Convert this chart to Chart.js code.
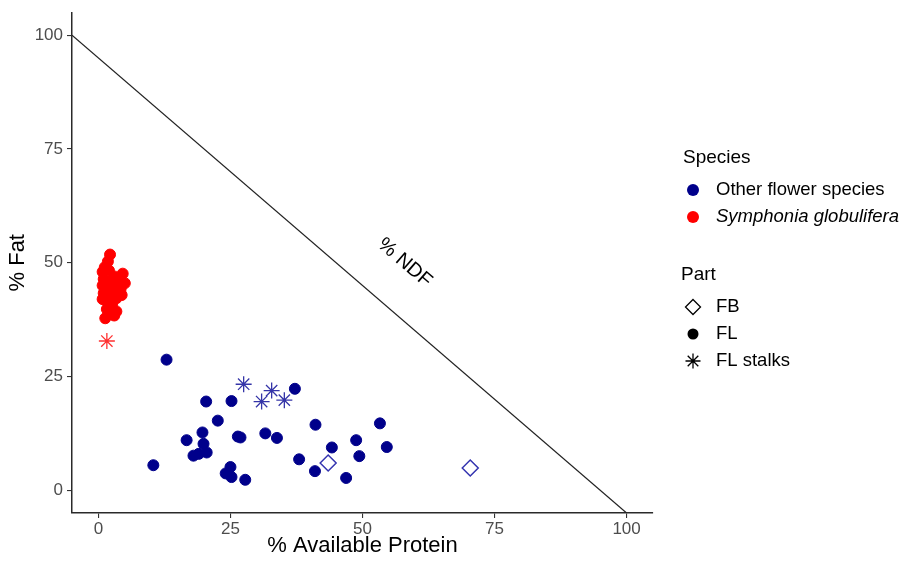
<!DOCTYPE html>
<html><head><meta charset="utf-8">
<script src="https://cdn.jsdelivr.net/npm/chart.js@4.4.0/dist/chart.umd.min.js"></script>
<style>html,body{margin:0;padding:0;background:#fff;}#wrap{width:913px;height:562px;position:relative;}</style>
</head><body><div id="wrap"><canvas id="c" width="913" height="562"></canvas></div>
<script>
// ---- data ----
const xTicks = [0, 25, 50, 75, 100];
const yTicks = [0, 25, 50, 75, 100];
const xTitle = '% Available Protein';
const yTitle = '% Fat';
const ndfLine = [[-5, 100], [100, -5]];
const ndfLabel = { text: '% NDF', x: 58, y: 50 };

// Other flower species
const otherFL = [
  [12.9, 28.7], [10.4, 5.5], [20.4, 19.5], [25.2, 19.6], [22.6, 15.3],
  [19.7, 12.7], [16.7, 11.0], [19.9, 10.2], [18.0, 7.6], [19.0, 8.0],
  [20.5, 8.3], [26.4, 11.8], [26.9, 11.6], [31.6, 12.5], [33.8, 11.5],
  [25.0, 5.1], [24.1, 3.7], [25.2, 2.9], [27.8, 2.3], [37.2, 22.3],
  [41.1, 14.4], [44.2, 9.4], [48.8, 11.0], [53.3, 14.7], [54.6, 9.5],
  [38.0, 6.8], [49.4, 7.5], [41.0, 4.2], [46.9, 2.7]
];
const otherStalks = [[27.5, 23.3], [30.9, 19.5], [32.8, 21.9], [35.2, 19.8]];
const otherFB = [[43.5, 6.0], [70.4, 4.9]];

// Symphonia globulifera
const symphFL = [
  [2.2, 51.8], [1.8, 50.3], [1.2, 49.0], [0.8, 48.0], [2.0, 48.3], [3.0, 47.0],
  [4.6, 47.6], [1.0, 46.4], [2.2, 46.0], [3.6, 45.8], [5.0, 45.5], [0.8, 45.0],
  [1.6, 44.6], [2.8, 44.0], [4.2, 44.2], [1.0, 43.3], [2.2, 42.8], [4.4, 42.9],
  [3.4, 42.2], [0.8, 42.0], [1.8, 41.2], [2.6, 40.6], [3.4, 39.3], [1.6, 39.8],
  [2.2, 38.8], [1.3, 37.8], [3.0, 38.4]
];
const symphStalks = [[1.6, 32.8]];

const speciesNames = ['Other flower species', 'Symphonia globulifera'];
const speciesColors = ['#00008B', '#FF0000'];
const partNames = ['FB', 'FL', 'FL stalks'];

const toXY = a => a.map(p => ({ x: p[0], y: p[1] }));
const FONT = '"Liberation Sans", Arial, sans-serif';

function drawStar(ctx, x, y, r) {
  const d = r * Math.SQRT1_2;
  ctx.beginPath();
  ctx.moveTo(x - r, y); ctx.lineTo(x + r, y);
  ctx.moveTo(x, y - r); ctx.lineTo(x, y + r);
  ctx.moveTo(x - d, y - d); ctx.lineTo(x + d, y + d);
  ctx.moveTo(x - d, y + d); ctx.lineTo(x + d, y - d);
  ctx.stroke();
}
function drawDiamond(ctx, x, y, r) {
  ctx.beginPath();
  ctx.moveTo(x, y - r); ctx.lineTo(x + r, y); ctx.lineTo(x, y + r); ctx.lineTo(x - r, y);
  ctx.closePath(); ctx.stroke();
}
function drawDot(ctx, x, y, r) {
  ctx.beginPath(); ctx.arc(x, y, r, 0, Math.PI * 2); ctx.fill();
}

const overlay = {
  id: 'overlay',
  afterDatasetsDraw(chart) {
    const ctx = chart.ctx, xs = chart.scales.x, ys = chart.scales.y;
    // NDF label rotated along the line
    const x0 = xs.getPixelForValue(ndfLine[0][0]), y0 = ys.getPixelForValue(ndfLine[0][1]);
    const x1 = xs.getPixelForValue(ndfLine[1][0]), y1 = ys.getPixelForValue(ndfLine[1][1]);
    const ang = Math.atan2(y1 - y0, x1 - x0);
    ctx.save();
    ctx.translate(xs.getPixelForValue(ndfLabel.x), ys.getPixelForValue(ndfLabel.y));
    ctx.rotate(ang);
    ctx.font = '20px ' + FONT; ctx.fillStyle = '#000';
    ctx.textAlign = 'center'; ctx.textBaseline = 'middle';
    ctx.fillText(ndfLabel.text, 0, 0);
    ctx.restore();

    // legend
    ctx.save();
    ctx.textAlign = 'left'; ctx.textBaseline = 'middle'; ctx.fillStyle = '#000';
    const kx = 693, tx = 716;
    ctx.font = '19px ' + FONT;
    ctx.fillText('Species', 683, 158);
    const sy = [190, 217];
    speciesNames.forEach((n, i) => {
      ctx.fillStyle = speciesColors[i];
      drawDot(ctx, kx, sy[i], 6);
      ctx.fillStyle = '#000';
      ctx.font = (i === 1 ? 'italic ' : '') + '18.5px ' + FONT;
      ctx.fillText(n, tx, sy[i]);
    });
    ctx.font = '19px ' + FONT;
    ctx.fillText('Part', 681, 275);
    const py = [307, 334, 361];
    ctx.strokeStyle = '#000'; ctx.lineWidth = 1.3; ctx.fillStyle = '#000';
    drawDiamond(ctx, kx, py[0], 7.5);
    drawDot(ctx, kx, py[1], 5.5);
    drawStar(ctx, kx, py[2], 7.5);
    ctx.font = '18.5px ' + FONT;
    partNames.forEach((n, i) => ctx.fillText(n, tx, py[i]));
    ctx.restore();
  }
};

const axisCommon = {
  type: 'linear', min: -5, max: 105,
  grid: { display: true, drawOnChartArea: false, drawTicks: true, tickLength: 5, color: '#333', lineWidth: 1.1 },
  border: { display: true, color: '#2a2a2a', width: 1.5 },
};

new Chart(document.getElementById('c'), {
  type: 'scatter',
  data: {
    datasets: [
      { type: 'line', label: 'NDF', data: toXY(ndfLine), borderColor: '#222', borderWidth: 1.2, pointRadius: 0, fill: false, order: 10 },
      { label: 'Other FL', data: toXY(otherFL), pointStyle: 'circle', pointRadius: 5.5, backgroundColor: speciesColors[0], borderColor: speciesColors[0], borderWidth: 1 },
      { label: 'Other FL stalks', data: toXY(otherStalks), pointStyle: 'star', pointRadius: 8, backgroundColor: 'transparent', borderColor: '#3535a8', borderWidth: 1.3 },
      { label: 'Other FB', data: toXY(otherFB), pointStyle: 'rectRot', pointRadius: 8, backgroundColor: 'transparent', borderColor: '#3535b0', borderWidth: 1.5 },
      { label: 'Symphonia FL', data: toXY(symphFL), pointStyle: 'circle', pointRadius: 5.5, backgroundColor: speciesColors[1], borderColor: speciesColors[1], borderWidth: 1 },
      { label: 'Symphonia FL stalks', data: toXY(symphStalks), pointStyle: 'star', pointRadius: 8, backgroundColor: 'transparent', borderColor: '#ff3030', borderWidth: 1.3 }
    ]
  },
  options: {
    responsive: false, devicePixelRatio: 1, animation: false,
    layout: { padding: { top: 9, right: 260, left: 0, bottom: 0 } },
    plugins: { legend: { display: false }, tooltip: { enabled: false } },
    scales: {
      x: Object.assign({}, axisCommon, {
        position: 'bottom',
        afterBuildTicks: s => { s.ticks = xTicks.map(v => ({ value: v })); },
        afterFit: s => { s.height = 49; },
        ticks: { color: '#4d4d4d', font: { family: FONT, size: 17, lineHeight: 1 }, padding: 3, maxRotation: 0, autoSkip: false },
        title: { display: true, text: xTitle, color: '#000', font: { family: FONT, size: 22, lineHeight: 1.2 }, padding: { top: 0, bottom: 3 } }
      }),
      y: Object.assign({}, axisCommon, {
        position: 'left',
        afterBuildTicks: s => { s.ticks = yTicks.map(v => ({ value: v })); },
        afterFit: s => { s.width = 72; },
        ticks: { color: '#4d4d4d', font: { family: FONT, size: 17, lineHeight: 1 }, padding: 4, autoSkip: false },
        title: { display: true, text: yTitle, color: '#000', font: { family: FONT, size: 22, lineHeight: 1.2 }, padding: { top: 5, bottom: 0 } }
      })
    }
  },
  plugins: [overlay]
});
</script></body></html>
